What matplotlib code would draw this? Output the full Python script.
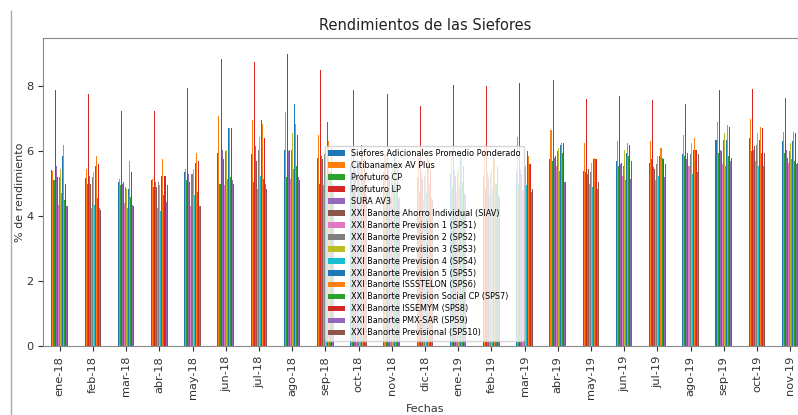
#!/usr/bin/env python3
"""Rendimientos de las Siefores: barras agrupadas por mes."""
import matplotlib

matplotlib.use("Agg")
import matplotlib.pyplot as plt
import pandas as pd
from matplotlib.lines import Line2D

plt.rcParams["font.family"] = ["DejaVu Sans"]

MESES = ["ene-18", "feb-18", "mar-18", "abr-18", "may-18", "jun-18", "jul-18", "ago-18",
         "sep-18", "oct-18", "nov-18", "dic-18", "ene-19", "feb-19", "mar-19", "abr-19",
         "may-19", "jun-19", "jul-19", "ago-19", "sep-19", "oct-19", "nov-19"]

promedio = [5.42, 5.18, 5.05, 5.12, 5.35, 5.95, 5.90, 6.05, 5.80, 5.55, 5.35, 5.20,
            5.30, 5.25, 5.40, 5.75, 5.40, 5.70, 5.65, 5.90, 6.35, 6.40, 6.30]
citibanamex = [5.40, 5.45, 5.15, 5.15, 5.45, 7.08, 6.95, 7.20, 6.50, 6.10, 5.90, 5.80,
               6.00, 6.10, 6.45, 6.65, 6.25, 6.30, 6.30, 6.50, 6.90, 7.00, 6.60]
profuturo_cp = [5.10, 5.00, 4.95, 4.90, 5.10, 5.00, 5.05, 5.20, 5.00, 4.90, 4.80, 4.75,
                4.90, 4.85, 5.00, 5.70, 5.35, 5.55, 5.75, 5.85, 5.95, 6.00, 5.95]
profuturo_lp = [7.90, 7.75, 7.25, 7.25, 7.95, 8.83, 8.74, 8.98, 8.50, 7.88, 7.75, 7.40,
                8.05, 8.02, 8.10, 8.20, 7.60, 7.70, 7.57, 7.45, 7.88, 7.92, 7.63]
sura_av3 = [5.55, 5.25, 5.00, 5.05, 5.30, 6.05, 6.15, 6.00, 5.85, 5.60, 5.40, 5.30,
            5.40, 5.35, 5.45, 5.80, 5.30, 5.60, 5.50, 5.75, 6.05, 6.05, 6.05]
siav = [5.20, 5.00, 5.05, 4.90, 5.05, 5.75, 5.70, 6.05, 5.75, 5.40, 5.20, 5.15,
        5.25, 5.20, 5.30, 5.85, 5.45, 5.65, 5.45, 5.95, 6.00, 6.15, 5.80]
sps1 = [4.35, 4.25, 4.40, 4.25, 4.30, 4.95, 4.85, 5.15, 4.95, 4.60, 4.55, 4.50,
        4.70, 4.65, 4.80, 5.55, 5.00, 5.25, 5.10, 5.55, 5.60, 5.70, 5.65]
sps2 = [5.20, 5.20, 4.90, 5.05, 5.30, 6.00, 6.05, 6.05, 5.90, 5.55, 5.35, 5.25,
        5.35, 5.30, 5.45, 6.00, 5.35, 5.55, 5.60, 5.90, 6.35, 6.20, 6.00]
sps3 = [5.45, 5.35, 4.85, 4.95, 5.45, 6.05, 6.45, 6.55, 6.10, 5.70, 5.50, 5.40,
        5.50, 5.45, 5.55, 6.10, 5.65, 6.05, 5.85, 6.25, 6.55, 6.55, 6.25]
sps4 = [4.70, 4.35, 4.25, 4.15, 4.65, 5.15, 5.25, 5.45, 5.20, 4.95, 4.85, 4.75,
        4.90, 4.85, 4.95, 5.40, 4.90, 5.10, 5.25, 5.30, 5.55, 5.55, 5.75]
sps5 = [5.85, 5.55, 4.85, 5.25, 5.65, 6.70, 6.95, 7.45, 6.90, 6.20, 5.95, 5.80,
        5.95, 5.90, 6.00, 6.20, 5.75, 5.95, 5.85, 6.05, 6.35, 6.35, 6.30]
sps6 = [6.20, 5.85, 5.70, 5.75, 5.95, 6.70, 6.85, 6.85, 6.30, 5.95, 5.80, 5.70,
        5.80, 5.75, 5.85, 6.25, 5.80, 6.25, 6.10, 6.40, 6.80, 6.75, 6.60]
sps7 = [4.50, 4.55, 4.60, 4.65, 4.75, 5.20, 5.15, 5.55, 5.35, 5.10, 5.00, 4.95,
        5.05, 5.00, 5.60, 5.95, 5.75, 5.85, 5.80, 6.05, 5.85, 5.95, 5.70]
sps8 = [5.00, 5.60, 5.35, 5.25, 5.70, 6.70, 6.40, 6.50, 6.10, 5.75, 5.55, 5.45,
        5.55, 5.50, 5.60, 6.25, 5.75, 6.20, 5.75, 6.05, 6.75, 6.70, 6.55]
sps9 = [4.30, 4.25, 4.35, 4.45, 4.30, 5.10, 5.00, 5.20, 5.00, 4.70, 4.60, 4.55,
        4.70, 4.65, 4.75, 5.05, 4.85, 5.15, 5.20, 5.35, 5.70, 5.55, 5.60]
sps10 = [4.30, 4.20, 4.30, 4.95, 4.30, 5.00, 4.85, 5.10, 4.95, 4.65, 4.55, 4.50,
         4.65, 4.60, 4.85, 5.05, 5.05, 5.70, 5.60, 5.90, 5.80, 5.95, 5.65]

NOMBRES = ["Siefores Adicionales Promedio Ponderado", "Citibanamex AV Plus", "Profuturo CP",
           "Profuturo LP", "SURA AV3", "XXI Banorte Ahorro Individual (SIAV)",
           "XXI Banorte Prevision 1 (SPS1)", "XXI Banorte Prevision 2 (SPS2)",
           "XXI Banorte Prevision 3 (SPS3)", "XXI Banorte Prevision 4 (SPS4)",
           "XXI Banorte Prevision 5 (SPS5)", "XXI Banorte ISSSTELON (SPS6)",
           "XXI Banorte Prevision Social CP (SPS7)", "XXI Banorte ISSEMYM (SPS8)",
           "XXI Banorte PMX-SAR (SPS9)", "XXI Banorte Previsional (SPS10)"]
SERIES = [promedio, citibanamex, profuturo_cp, profuturo_lp, sura_av3, siav, sps1, sps2,
          sps3, sps4, sps5, sps6, sps7, sps8, sps9, sps10]

df = pd.DataFrame(dict(zip(NOMBRES, SERIES)), index=MESES)

fig = plt.figure(figsize=(7.98, 4.15), dpi=100)
ax = fig.add_axes([0.054, 0.166, 0.957, 0.742])
df.plot(kind="bar", ax=ax, rot=90, legend=False)

ax.set_xlim(-0.5, len(MESES) - 0.5)
ax.set_ylim(0, 9.48)
ax.set_yticks([0, 2, 4, 6, 8])
ax.tick_params(labelsize=8.2, colors="#333333")
for s in ax.spines.values():
    s.set_color("#8a8a8a")
ax.set_title("Rendimientos de las Siefores", fontsize=10.5, color="#222222")
ax.set_xlabel("Fechas", fontsize=8, color="#333333")
ax.set_ylabel("% de rendimiento", fontsize=8, color="#333333", labelpad=1)

ax.legend(loc="lower left", bbox_to_anchor=(0.369, 0.018), borderaxespad=0,
          fontsize=5.9, labelspacing=0.36, framealpha=0.8)

# borde de la celda del cuaderno
fig.add_artist(Line2D([11 / 798, 11 / 798], [0, 1 - 11 / 415], color="#aaaaaa", lw=1))

fig.savefig("out.png", dpi=100)
